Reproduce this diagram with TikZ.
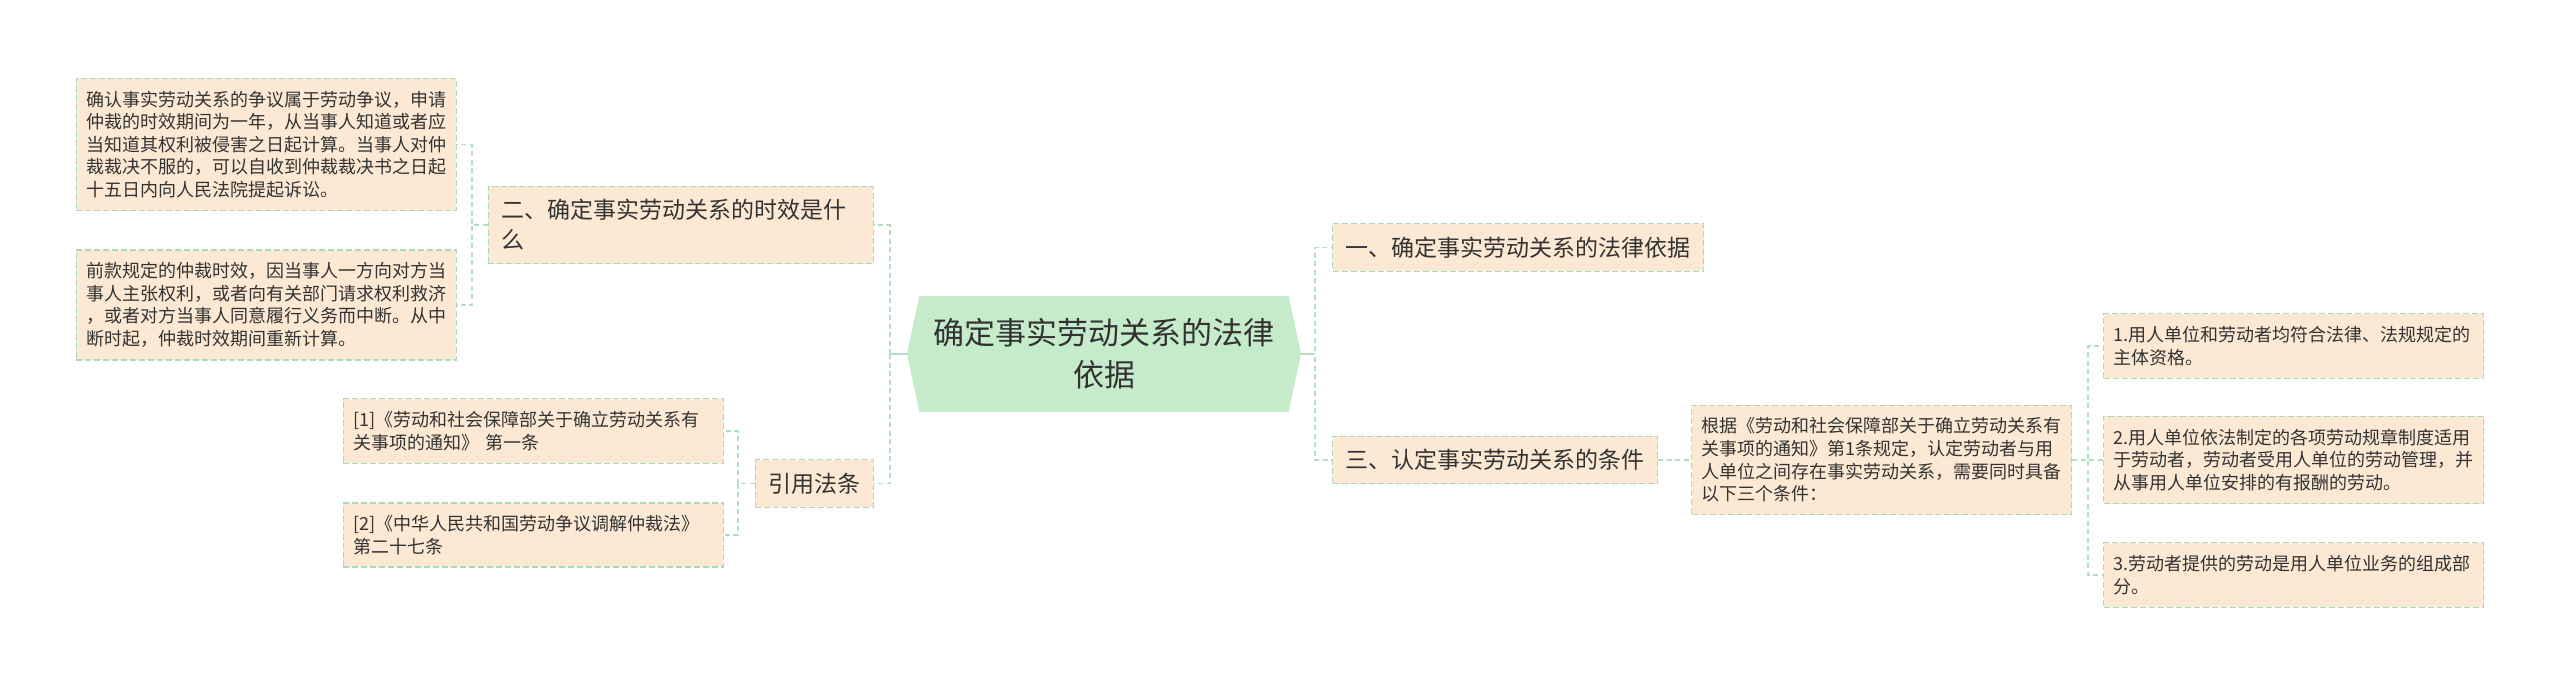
\documentclass[tikz,border=0pt]{standalone}
\usepackage{fontspec}
\setmainfont{Noto Sans CJK SC}
\usepackage{tikz}
\usepackage{xcolor}
\usetikzlibrary{shapes.symbols}
\definecolor{boxfill}{HTML}{FCE9D3}
\definecolor{boxline}{HTML}{AED8BA}
\definecolor{linkline}{HTML}{B4DEC1}
\definecolor{rootfill}{HTML}{C5EBCB}
\definecolor{inktext}{HTML}{333333}

\begin{document}
\begin{tikzpicture}[x=1pt,y=-1pt,
    topic/.style={draw=boxline, fill=boxfill, dash pattern=on 6pt off 3pt, line width=1.3pt,
        text=inktext, font=\fontsize{23}{30}\selectfont, inner xsep=13pt, inner ysep=13pt, align=left},
    note/.style={draw=boxline, fill=boxfill, dash pattern=on 6pt off 3pt, line width=1.3pt,
        text=inktext, font=\fontsize{18}{22.6}\selectfont, text width=360pt, inner xsep=10pt,
        inner ysep=12.5pt, align=left},
    link/.style={draw=linkline, line width=1.8pt, dash pattern=on 5pt off 3.5pt},
    stub/.style={draw=linkline, line width=1.8pt}]
                \useasboundingbox (0,0) rectangle (2560,685);

                % Root
                \node[signal, signal to=west and east, signal pointer angle=156, fill=rootfill,
                    minimum width=394pt, minimum height=116pt, align=center, text=inktext,
                    font=\fontsize{31}{42}\selectfont] (root) at (1104,354) {确定事实劳动关系的法律\\依据};

                % Left branch
                \node[topic, text width=359pt, anchor=east] (period) at (874,225) {二、确定事实劳动关系的时效是什\\么};
                \node[topic, anchor=east] (cite) at (874,483.5) {引用法条};
                \node[note, anchor=east] (periodA) at (457,144.5) {确认事实劳动关系的争议属于劳动争议，申请\\仲裁的时效期间为一年，从当事人知道或者应\\当知道其权利被侵害之日起计算。当事人对仲\\裁裁决不服的，可以自收到仲裁裁决书之日起\\十五日内向人民法院提起诉讼。};
                \node[note, anchor=east] (periodB) at (457,305) {前款规定的仲裁时效，因当事人一方向对方当\\事人主张权利，或者向有关部门请求权利救济\\，或者对方当事人同意履行义务而中断。从中\\断时起，仲裁时效期间重新计算。};
                \node[note, anchor=east] (citeA) at (724,431) {[1]《劳动和社会保障部关于确立劳动关系有\\关事项的通知》 第一条};
                \node[note, anchor=east] (citeB) at (724,535) {[2]《中华人民共和国劳动争议调解仲裁法》\\第二十七条};

                % Right branch
                \node[topic, anchor=west] (basis) at (1332,247.5) {一、确定事实劳动关系的法律依据};
                \node[topic, anchor=west] (cond) at (1332,460) {三、认定事实劳动关系的条件};
                \node[note, anchor=west] (condtext) at (1691,460) {根据《劳动和社会保障部关于确立劳动关系有\\关事项的通知》第1条规定，认定劳动者与用\\人单位之间存在事实劳动关系，需要同时具备\\以下三个条件：};
                \node[note, anchor=west] (condA) at (2103,346) {1.用人单位和劳动者均符合法律、法规规定的\\主体资格。};
                \node[note, anchor=west] (condB) at (2103,460) {2.用人单位依法制定的各项劳动规章制度适用\\于劳动者，劳动者受用人单位的劳动管理，并\\从事用人单位安排的有报酬的劳动。};
                \node[note, anchor=west] (condC) at (2103,575) {3.劳动者提供的劳动是用人单位业务的组成部\\分。};

                % Links, left
                \draw[link] (root.west) -- ++(-17,0) |- (period.east);
                \draw[link] (root.west) -- ++(-17,0) |- (cite.east);
                \draw[stub] (root.west) -- ++(-17,0);
                \draw[link] (period.west) -- ++(-16,0) |- (periodA.east);
                \draw[link] (period.west) -- ++(-16,0) |- (periodB.east);
                \draw[link] (cite.west) -- ++(-17,0) |- (citeA.east);
                \draw[link] (cite.west) -- ++(-17,0) |- (citeB.east);

                % Links, right
                \draw[link] (root.east) -- ++(14,0) |- (basis.west);
                \draw[link] (root.east) -- ++(14,0) |- (cond.west);
                \draw[stub] (root.east) -- ++(14,0);
                \draw[link] (cond.east) -- (condtext.west);
                \draw[link] (condtext.east) -- ++(16,0) |- (condA.west);
                \draw[link] (condtext.east) -- ++(16,0) |- (condB.west);
                \draw[link] (condtext.east) -- ++(16,0) |- (condC.west);
\end{tikzpicture}
\end{document}
